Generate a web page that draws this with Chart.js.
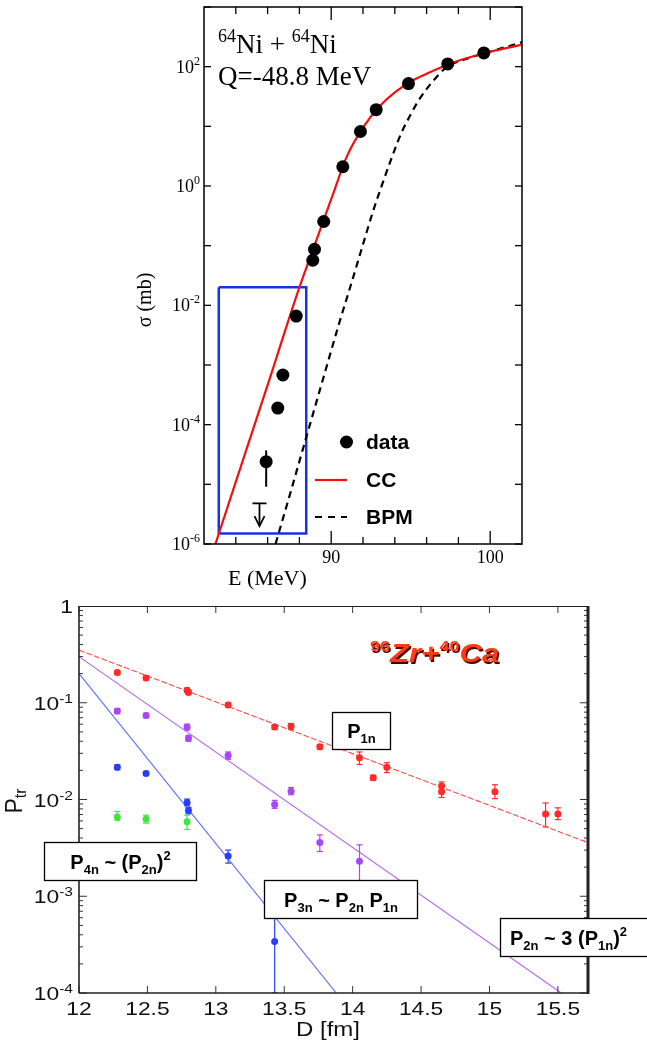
<!DOCTYPE html>
<html>
<head>
<meta charset="utf-8">
<script src="https://cdn.jsdelivr.net/npm/chart.js@4.4.0/dist/chart.umd.min.js"></script>
<style>
  html, body { margin: 0; padding: 0; background: #fff; }
  #wrap { position: relative; width: 647px; height: 1049px; }
  canvas { position: absolute; left: 0; display: block; }
</style>
</head>
<body>
<div id="wrap">
  <canvas id="fusion" width="647" height="590" style="top:0"></canvas>
  <canvas id="transfer" width="647" height="459" style="top:590px"></canvas>
</div>
<script>
// ---- top panel: 64Ni + 64Ni, sigma vs E ----
const dataE = [85.91, 86.64, 86.96, 87.8, 88.84, 88.95, 89.53, 90.73, 91.84, 92.83, 94.86, 97.33, 99.6];
const dataSigma = [2.4e-5, 1.9e-4, 6.8e-4, 6.6e-3, 0.057, 0.087, 0.254, 2.1, 8.2, 19, 52, 111, 170];
const errE = [85.91];
const errLow = [9.1e-6];
const errHigh = [3.7e-5];
const limitE = [85.49];
const limitTop = [4.8e-6];
const limitTip = [2.0e-6];
const ccE = [82.72, 84, 86, 88, 89, 90, 91, 92, 93, 94, 95, 96, 97, 98, 99, 100, 101, 102];
const ccSigma = [1e-6, 1.1e-5, 4.6e-4, 0.02, 0.11, 0.6, 3.2, 9.5, 21, 37, 56, 76, 100, 126, 151, 178, 204, 234];
const bpmE = [86.5, 87.5, 88.5, 89.5, 90.5, 91.3, 92, 92.62, 93.2, 93.8, 94.4, 95, 95.6, 96.4, 97.3, 98.5, 99.6, 102];
const bpmSigma = [1e-6, 8.3e-6, 7.1e-5, 6.0e-4, 5.0e-3, 0.025, 0.105, 0.37, 1.05, 2.95, 7.6, 15.8, 30, 57, 100, 135, 166, 257];
const windowE = [82.93, 88.43, 88.43, 82.93, 82.93];
const windowSigma = [0.02, 0.02, 1.5e-6, 1.5e-6, 0.02];
const sigmaTickExp = [2, 0, -2, -4, -6];
const energyTickLabels = [90, 100];

// ---- bottom panel: 96Zr + 40Ca, transfer probabilities vs D ----
const p1nD = [12.28, 12.49, 12.79, 12.8, 13.09, 13.43, 13.55, 13.76, 14.05, 14.15, 14.25, 14.65, 14.65, 15.04, 15.41, 15.5];
const p1nP = [0.205, 0.18, 0.135, 0.128, 0.095, 0.056, 0.057, 0.035, 0.027, 0.0168, 0.0215, 0.0138, 0.012, 0.012, 0.0071, 0.0071];
const p1nLo = [0.195, 0.172, 0.128, 0.122, 0.09, 0.053, 0.053, 0.033, 0.023, 0.0158, 0.019, 0.0125, 0.0105, 0.0102, 0.0052, 0.0062];
const p1nHi = [0.215, 0.19, 0.142, 0.135, 0.1, 0.059, 0.061, 0.037, 0.031, 0.0178, 0.024, 0.0152, 0.0135, 0.0142, 0.0092, 0.0082];
const p2nD = [12.28, 12.49, 12.79, 12.8, 13.09, 13.43, 13.55, 13.76, 14.05];
const p2nP = [0.082, 0.074, 0.056, 0.043, 0.0285, 0.0089, 0.0122, 0.0036, 0.0023];
const p2nLo = [0.077, 0.07, 0.052, 0.04, 0.026, 0.0081, 0.0112, 0.0029, 0.0012];
const p2nHi = [0.087, 0.078, 0.06, 0.046, 0.031, 0.0098, 0.0133, 0.0043, 0.0034];
const p3nD = [12.28, 12.49, 12.79, 12.8, 13.09, 13.43];
const p3nP = [0.0215, 0.0186, 0.0093, 0.0077, 0.0026, 0.00034];
const p3nLo = [0.0203, 0.0178, 0.0086, 0.0071, 0.0022, 0.0001];
const p3nHi = [0.0228, 0.0195, 0.0101, 0.0083, 0.003, 0.0012];
const p4nD = [12.28, 12.49, 12.79];
const p4nP = [0.0066, 0.0063, 0.0059];
const p4nLo = [0.0061, 0.0057, 0.0049];
const p4nHi = [0.0075, 0.0069, 0.0069];
const fit1nD = [12, 15.72];
const fit1nP = [0.35, 0.00358];
const fit2nD = [12, 15.525];
const fit2nP = [0.30, 1e-4];
const fit3nD = [12, 13.88];
const fit3nP = [0.20, 1e-4];
const dTicks = [12, 12.5, 13, 13.5, 14, 14.5, 15, 15.5];
const pTickExp = [0, -1, -2, -3, -4];

const xy = (xs, ys) => xs.map((v, i) => ({ x: v, y: ys[i] }));

function line(ctx, x1, y1, x2, y2) {
  ctx.beginPath();
  ctx.moveTo(x1, y1);
  ctx.lineTo(x2, y2);
  ctx.stroke();
}

// text made of pieces, some raised or lowered
function richWidth(ctx, parts, st) {
  let w = 0;
  for (const p of parts) {
    ctx.font = p.k ? st.small : st.main;
    w += ctx.measureText(p.t).width;
  }
  return w;
}

function drawRich(ctx, parts, x, y, st, align) {
  const sx = st.sx || 1;
  const w = richWidth(ctx, parts, st) * sx;
  let x0 = align === 'center' ? x - w / 2 : align === 'right' ? x - w : x;
  ctx.save();
  ctx.translate(x0, y);
  ctx.scale(sx, 1);
  ctx.textAlign = 'left';
  ctx.textBaseline = 'alphabetic';
  let cx = 0;
  for (const p of parts) {
    ctx.font = p.k ? st.small : st.main;
    const dy = p.k === 'sup' ? -st.sup : p.k === 'sub' ? st.sub : 0;
    ctx.fillText(p.t, cx, dy);
    cx += ctx.measureText(p.t).width;
  }
  ctx.restore();
}

const fusionDecor = {
  id: 'fusionDecor',
  beforeDatasetsDraw(chart) {
    const { ctx, scales: { x, y } } = chart;
    ctx.save();
    ctx.strokeStyle = '#000';
    ctx.lineWidth = 2;
    errE.forEach((e, i) => {
      const px = x.getPixelForValue(e);
      line(ctx, px, y.getPixelForValue(errHigh[i]), px, y.getPixelForValue(errLow[i]));
    });
    // upper limit
    ctx.lineWidth = 1.8;
    limitE.forEach((e, i) => {
      const px = x.getPixelForValue(e);
      const top = y.getPixelForValue(limitTop[i]);
      const tip = y.getPixelForValue(limitTip[i]);
      line(ctx, px - 7, top, px + 7, top);
      line(ctx, px, top, px, tip);
      ctx.beginPath();
      ctx.moveTo(px - 5, tip - 10);
      ctx.lineTo(px, tip);
      ctx.lineTo(px + 5, tip - 10);
      ctx.stroke();
    });
    ctx.restore();
  },
  afterDraw(chart) {
    const { ctx, chartArea: a, scales: { x, y } } = chart;
    ctx.save();
    ctx.strokeStyle = '#000';
    ctx.fillStyle = '#000';
    ctx.lineWidth = 1.5;
    ctx.strokeRect(a.left, a.top, a.right - a.left, a.bottom - a.top);
    ctx.lineWidth = 1.3;
    for (let e = -6; e <= 3; e++) {
      const py = y.getPixelForValue(Math.pow(10, e));
      line(ctx, a.left, py, a.left + 7, py);
      line(ctx, a.right, py, a.right - 7, py);
    }
    for (let ev = 84; ev <= 100; ev += 2) {
      const px = x.getPixelForValue(ev);
      const len = ev % 10 === 0 ? 13 : 7;
      line(ctx, px, a.bottom, px, a.bottom - len);
      line(ctx, px, a.top, px, a.top + len);
    }
    const serifTick = { main: '18px "Liberation Serif"', small: '12px "Liberation Serif"', sup: 8, sub: 0 };
    sigmaTickExp.forEach(e => {
      const py = y.getPixelForValue(Math.pow(10, e));
      drawRich(ctx, [{ t: '10' }, { t: String(e), k: 'sup' }], a.left - 4, py + 6, serifTick, 'right');
    });
    ctx.font = '18px "Liberation Serif"';
    ctx.textAlign = 'center';
    ctx.textBaseline = 'alphabetic';
    energyTickLabels.forEach(ev => ctx.fillText(String(ev), x.getPixelForValue(ev), a.bottom + 19));
    ctx.font = '22px "Liberation Serif"';
    ctx.textAlign = 'left';
    ctx.fillText('E (MeV)', 228, 585);
    ctx.save();
    ctx.translate(151, 300);
    ctx.rotate(-Math.PI / 2);
    ctx.textAlign = 'center';
    ctx.font = '20px "Liberation Serif"';
    ctx.fillText('σ (mb)', 0, 0);
    ctx.restore();

    const head = { main: '27px "Liberation Serif"', small: '18px "Liberation Serif"', sup: 11, sub: 0 };
    drawRich(ctx, [{ t: '64', k: 'sup' }, { t: 'Ni + ' }, { t: '64', k: 'sup' }, { t: 'Ni' }], 218, 53, head, 'left');
    drawRich(ctx, [{ t: 'Q=-48.8 MeV' }], 218, 85, head, 'left');

    // legend
    ctx.font = 'bold 21px "Liberation Sans"';
    ctx.textAlign = 'left';
    ctx.textBaseline = 'middle';
    ctx.beginPath();
    ctx.arc(346.5, 442, 6.5, 0, Math.PI * 2);
    ctx.fill();
    ctx.fillText('data', 366, 443);
    ctx.strokeStyle = '#f01010';
    ctx.lineWidth = 2.2;
    line(ctx, 315, 480, 347, 480);
    ctx.fillText('CC', 366, 481);
    ctx.strokeStyle = '#000';
    ctx.setLineDash([7, 6]);
    line(ctx, 315, 517, 347, 517);
    ctx.setLineDash([]);
    ctx.fillText('BPM', 366, 518);
    ctx.restore();
  }
};

new Chart(document.getElementById('fusion'), {
  type: 'scatter',
  data: {
    datasets: [
      { label: 'data', data: xy(dataE, dataSigma), pointRadius: 6.5, pointHoverRadius: 6.5, backgroundColor: '#000', borderWidth: 0 },
      { label: 'CC', data: xy(ccE, ccSigma), showLine: true, pointRadius: 0, borderColor: '#f01010', borderWidth: 2.2, cubicInterpolationMode: 'monotone' },
      { label: 'BPM', data: xy(bpmE, bpmSigma), showLine: true, pointRadius: 0, borderColor: '#000', borderWidth: 2.2, borderDash: [7, 5], cubicInterpolationMode: 'monotone' },
      { label: 'window', data: xy(windowE, windowSigma), showLine: true, pointRadius: 0, borderColor: '#1830e6', borderWidth: 2.5, borderJoinStyle: 'miter' }
    ]
  },
  options: {
    responsive: false,
    devicePixelRatio: 1,
    animation: false,
    events: [],
    layout: { padding: { left: 204, right: 125, top: 7, bottom: 46 } },
    plugins: { legend: { display: false }, tooltip: { enabled: false } },
    scales: {
      x: { type: 'linear', min: 82, max: 102, display: false },
      y: { type: 'logarithmic', min: 1e-6, max: 1e3, display: false }
    }
  },
  plugins: [fusionDecor]
});

// ---- bottom panel ----
const seriesErr = [
  { d: p1nD, lo: p1nLo, hi: p1nHi, c: '#ff2a2a' },
  { d: p2nD, lo: p2nLo, hi: p2nHi, c: '#a846ff' },
  { d: p3nD, lo: p3nLo, hi: p3nHi, c: '#2a3cff' },
  { d: p4nD, lo: p4nLo, hi: p4nHi, c: '#3ee63e' }
];

function drawBox(ctx, x1, y1, x2, y2, parts, textX) {
  ctx.fillStyle = '#fff';
  ctx.fillRect(x1, y1, x2 - x1, y2 - y1);
  ctx.strokeStyle = '#000';
  ctx.lineWidth = 1.3;
  ctx.strokeRect(x1, y1, x2 - x1, y2 - y1);
  ctx.fillStyle = '#000';
  const st = { main: 'bold 20px "Liberation Sans"', small: 'bold 13px "Liberation Sans"', sup: 9, sub: 5 };
  const base = (y1 + y2) / 2 + 7;
  if (textX == null) drawRich(ctx, parts, (x1 + x2) / 2, base, st, 'center');
  else drawRich(ctx, parts, textX, base, st, 'left');
}

const transferDecor = {
  id: 'transferDecor',
  beforeDatasetsDraw(chart) {
    const { ctx, chartArea: a, scales: { x, y } } = chart;
    ctx.save();
    ctx.beginPath();
    ctx.rect(a.left, a.top, a.right - a.left, a.bottom - a.top);
    ctx.clip();
    ctx.lineWidth = 1.2;
    seriesErr.forEach(s => {
      ctx.strokeStyle = s.c;
      s.d.forEach((dv, i) => {
        const px = x.getPixelForValue(dv);
        const yh = y.getPixelForValue(s.hi[i]);
        const yl = y.getPixelForValue(s.lo[i]);
        line(ctx, px, yh, px, yl);
        line(ctx, px - 3, yh, px + 3, yh);
        line(ctx, px - 3, yl, px + 3, yl);
      });
    });
    ctx.restore();
  },
  afterDraw(chart) {
    const { ctx, chartArea: a, scales: { x, y } } = chart;
    ctx.save();
    ctx.strokeStyle = '#333';
    ctx.lineWidth = 1;
    for (let e = -4; e < 0; e++) {
      for (let k = 1; k <= 9; k++) {
        const py = y.getPixelForValue(k * Math.pow(10, e));
        const len = k === 1 ? 8 : 4;
        line(ctx, a.left, py, a.left + len, py);
        line(ctx, a.right, py, a.right - len, py);
      }
    }
    dTicks.forEach(dv => {
      const px = x.getPixelForValue(dv);
      line(ctx, px, a.top, px, a.top + 7);
      line(ctx, px, a.bottom, px, a.bottom - 7);
    });
    // frame
    ctx.strokeStyle = '#222';
    ctx.lineWidth = 1;
    line(ctx, a.left, a.top + 0.5, a.right, a.top + 0.5);
    ctx.lineWidth = 1.6;
    line(ctx, a.left, a.top, a.left, a.bottom);
    line(ctx, a.left, a.bottom, a.right, a.bottom);
    ctx.lineWidth = 3;
    line(ctx, a.right, a.top, a.right, a.bottom + 1);

    ctx.fillStyle = '#111';
    const tick = { main: '19px "Liberation Sans"', small: '13px "Liberation Sans"', sup: 7, sub: 0, sx: 1.2 };
    pTickExp.forEach(e => {
      const py = y.getPixelForValue(Math.pow(10, e));
      const parts = e === 0 ? [{ t: '1' }] : [{ t: '10' }, { t: String(e), k: 'sup' }];
      drawRich(ctx, parts, a.left - 6, py + 7, tick, 'right');
    });
    dTicks.forEach(dv => {
      drawRich(ctx, [{ t: String(dv) }], x.getPixelForValue(dv), a.bottom + 22, tick, 'center');
    });
    drawRich(ctx, [{ t: 'D [fm]' }], 328, 446, { main: '20px "Liberation Sans"', small: '', sup: 0, sub: 0, sx: 1.2 }, 'center');
    ctx.save();
    ctx.translate(22, 211);
    ctx.rotate(-Math.PI / 2);
    drawRich(ctx, [{ t: 'P' }, { t: 'tr', k: 'sub' }], 0, 0, { main: '23px "Liberation Sans"', small: '16px "Liberation Sans"', sup: 0, sub: 4 }, 'center');
    ctx.restore();

    // title
    ctx.save();
    ctx.fillStyle = '#ff3a14';
    ctx.shadowColor = '#4a0000';
    ctx.shadowOffsetX = 1.5;
    ctx.shadowOffsetY = 1.5;
    drawRich(ctx, [{ t: '96', k: 'sup' }, { t: 'Zr+' }, { t: '40', k: 'sup' }, { t: 'Ca' }], 370, 72,
      { main: 'italic bold 26px "Liberation Sans"', small: 'bold 15px "Liberation Sans"', sup: 11, sub: 0, sx: 1.2 }, 'left');
    ctx.restore();

    // labels
    drawBox(ctx, 332.5, 122.5, 390.5, 159.5, [{ t: 'P' }, { t: '1n', k: 'sub' }]);
    drawBox(ctx, 44.5, 252.5, 196.5, 290.5, [{ t: 'P' }, { t: '4n', k: 'sub' }, { t: ' ~ (P' }, { t: '2n', k: 'sub' }, { t: ')' }, { t: '2', k: 'sup' }]);
    drawBox(ctx, 264.5, 290.5, 417.5, 328.5, [{ t: 'P' }, { t: '3n', k: 'sub' }, { t: ' ~ P' }, { t: '2n', k: 'sub' }, { t: ' P' }, { t: '1n', k: 'sub' }]);
    drawBox(ctx, 500.5, 328.5, 660, 366.5, [{ t: 'P' }, { t: '2n', k: 'sub' }, { t: ' ~ 3 (P' }, { t: '1n', k: 'sub' }, { t: ')' }, { t: '2', k: 'sup' }], 510);
    ctx.restore();
  }
};

const dot = (label, d, p, color) => ({
  label, data: xy(d, p), pointRadius: 3.5, pointHoverRadius: 3.5, backgroundColor: color, borderWidth: 0
});
const fit = (label, d, p, color, dash) => ({
  label, data: xy(d, p), showLine: true, pointRadius: 0, borderColor: color, borderWidth: 1.1, borderDash: dash
});

new Chart(document.getElementById('transfer'), {
  type: 'scatter',
  data: {
    datasets: [
      dot('P1n', p1nD, p1nP, '#ff2a2a'),
      dot('P2n', p2nD, p2nP, '#a846ff'),
      dot('P3n', p3nD, p3nP, '#2a3cff'),
      dot('P4n', p4nD, p4nP, '#3ee63e'),
      fit('P1n fit', fit1nD, fit1nP, '#ff4a4a', [6, 2]),
      fit('P2n fit', fit2nD, fit2nP, '#b462f2', []),
      fit('P3n fit', fit3nD, fit3nP, '#5a6aff', [])
    ]
  },
  options: {
    responsive: false,
    devicePixelRatio: 1,
    animation: false,
    events: [],
    layout: { padding: { left: 79, right: 59, top: 16, bottom: 56 } },
    plugins: { legend: { display: false }, tooltip: { enabled: false } },
    scales: {
      x: { type: 'linear', min: 12, max: 15.72, display: false },
      y: { type: 'logarithmic', min: 1e-4, max: 1, display: false }
    }
  },
  plugins: [transferDecor]
});
</script>
</body>
</html>
